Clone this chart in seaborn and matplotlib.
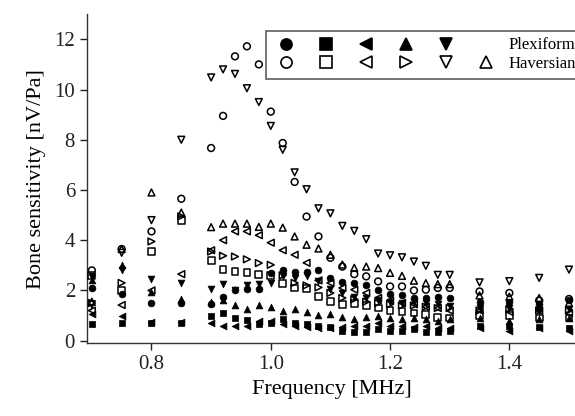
import seaborn as sns
import matplotlib.pyplot as plt
from matplotlib.lines import Line2D

# frequencies (MHz)
freq = [0.70, 0.75, 0.80, 0.85,
        0.90, 0.92, 0.94, 0.96, 0.98, 1.00, 1.02, 1.04, 1.06, 1.08, 1.10,
        1.12, 1.14, 1.16, 1.18, 1.20, 1.22, 1.24, 1.26, 1.28, 1.30,
        1.35, 1.40, 1.45, 1.50]

# Plexiform (filled markers)
plex_circle = [2.10, 1.85, 1.50, 1.50, 1.45, 1.72, 2.03, 2.05, 2.05, 2.68, 2.80, 2.75, 2.75, 2.83, 2.50,
               2.35, 2.28, 2.20, 2.00, 1.85, 1.80, 1.70, 1.70, 1.75, 1.70, 1.55, 1.55, 1.45, 1.60]
plex_square = [0.65, 0.70, 0.72, 0.72, 0.98, 1.10, 0.90, 0.83, 0.66, 0.70, 0.85, 0.70, 0.65, 0.60, 0.55,
               0.40, 0.35, 0.35, 0.45, 0.40, 0.40, 0.45, 0.35, 0.35, 0.40, 0.60, 0.60, 0.55, 0.50]
plex_left = [1.05, 1.00, 0.75, 0.75, 0.70, 0.60, 0.57, 0.60, 0.80, 0.80, 0.65, 0.60, 0.55, 0.50, 0.50,
             0.55, 0.60, 0.60, 0.70, 0.60, 0.60, 0.55, 0.60, 0.50, 0.50, 0.50, 0.40, 0.50, 0.40]
plex_up = [2.40, 3.00, 1.95, 1.65, 1.55, 1.60, 1.43, 1.26, 1.43, 1.35, 1.20, 1.26, 1.13, 1.03, 1.06,
           0.93, 0.88, 0.95, 1.00, 0.90, 0.85, 0.90, 0.85, 0.80, 0.85, 0.90, 0.80, 0.85, 0.90]
plex_down = [2.55, 2.80, 2.45, 2.30, 2.05, 2.25, 2.03, 2.20, 2.27, 2.30, 2.56, 2.49, 2.56, 2.36, 2.06,
             1.90, 1.75, 1.70, 1.60, 1.55, 1.50, 1.55, 1.50, 1.45, 1.40, 1.30, 1.30, 1.20, 1.25]

# Haversian (open markers)
hav_circle = [2.80, 3.65, 4.35, 5.65, 7.67, 8.95, 11.32, 11.72, 11.00, 9.12, 7.87, 6.32, 4.94, 4.15, 3.30,
              2.95, 2.65, 2.56, 2.36, 2.16, 2.16, 2.00, 2.03, 2.10, 2.10, 1.96, 1.90, 1.60, 1.66]
hav_square = [2.60, 2.00, 3.55, 4.80, 3.18, 2.82, 2.76, 2.72, 2.64, 2.60, 2.29, 2.10, 2.08, 1.77, 1.56,
              1.43, 1.48, 1.40, 1.30, 1.20, 1.15, 1.10, 1.05, 0.92, 0.90, 1.00, 1.00, 0.90, 0.90]
hav_left = [1.20, 1.42, 2.00, 2.65, 3.60, 4.00, 4.35, 4.35, 4.20, 3.90, 3.60, 3.42, 3.10, 2.40, 2.30,
            2.10, 2.03, 1.90, 1.70, 1.60, 1.50, 1.45, 1.35, 1.30, 1.20, 1.20, 1.15, 1.20, 1.10]
hav_right = [1.50, 2.30, 3.95, 4.95, 3.55, 3.38, 3.35, 3.24, 3.09, 3.02, 2.60, 2.30, 2.20, 2.12, 1.90,
             1.70, 1.65, 1.55, 1.50, 1.45, 1.40, 1.40, 1.35, 1.30, 1.30, 1.20, 1.25, 1.20, 1.20]
hav_down = [1.45, 3.50, 4.80, 8.00, 10.48, 10.80, 10.62, 10.05, 9.50, 8.55, 7.60, 6.70, 6.03, 5.27, 5.07,
            4.57, 4.37, 4.04, 3.47, 3.40, 3.32, 3.15, 2.98, 2.62, 2.62, 2.32, 2.37, 2.50, 2.83]
hav_up = [1.55, 3.65, 5.90, 5.10, 4.52, 4.66, 4.66, 4.66, 4.53, 4.66, 4.50, 4.15, 3.82, 3.67, 3.42,
          3.03, 2.90, 2.95, 2.89, 2.70, 2.58, 2.39, 2.29, 2.25, 2.25, 1.80, 1.75, 1.70, 1.50]

plt.rcParams['font.family'] = ['Liberation Serif', 'DejaVu Serif']

fig = plt.figure(figsize=(5.75, 4.16), dpi=100)
ax = fig.add_axes([0.151, 0.175, 0.851, 0.791])

plex = [(plex_circle, 'o'), (plex_square, 's'), (plex_left, '<'), (plex_up, '^'), (plex_down, 'v')]
hav = [(hav_circle, 'o'), (hav_square, 's'), (hav_left, '<'), (hav_right, '>'), (hav_down, 'v'), (hav_up, '^')]

for vals, m in plex:
    sns.scatterplot(x=freq, y=vals, marker=m, s=24, color='black', edgecolor='black',
                    linewidth=0.5, ax=ax, legend=False, zorder=3)
for vals, m in hav:
    sns.scatterplot(x=freq, y=vals, marker=m, s=24, facecolor='none', edgecolor='black',
                    linewidth=1.1, ax=ax, legend=False, zorder=3)

ax.set_xlim(0.6916, 1.512)
ax.set_ylim(-0.1, 13)
ax.set_xticks([0.8, 1.0, 1.2, 1.4])
ax.set_xticklabels(['0.8', '1.0', '1.2', '1.4'])
ax.set_yticks([0, 2, 4, 6, 8, 10, 12])
ax.tick_params(direction='out', length=5, width=1, labelsize=15, colors='#222222')
for side in ['top', 'right']:
    ax.spines[side].set_visible(False)
for side in ['left', 'bottom']:
    ax.spines[side].set_linewidth(1)
    ax.spines[side].set_color('#333333')
ax.set_xlabel('Frequency [MHz]', fontsize=16, labelpad=4)
ax.set_ylabel('Bone sensitivity [nV/Pa]', fontsize=16, labelpad=6)

# legend: 2 rows, filled = Plexiform, open = Haversian
def h(m, filled):
    if m is None:
        return Line2D([], [], linestyle='none')
    return Line2D([], [], linestyle='none', marker=m, markersize=8,
                  markerfacecolor='black' if filled else 'none',
                  markeredgecolor='black', markeredgewidth=1.2)

handles = [h('o', True), h('o', False), h('s', True), h('s', False),
           h('<', True), h('<', False), h('^', True), h('>', False),
           h('v', True), h('v', False), h(None, True), h('^', False)]
labels = ['', '', '', '', '', '', '', '', '', '', 'Plexiform', 'Haversian']
leg = fig.legend(handles, labels, ncol=6, loc='upper left',
                 bbox_to_anchor=(0.4626, 0.926), bbox_transform=fig.transFigure,
                 fontsize=12, frameon=True, fancybox=False, borderaxespad=0,
                 handlelength=1.6, handletextpad=0.55, columnspacing=0.25,
                 labelspacing=0.15, borderpad=0.4)
leg.get_frame().set_edgecolor('#333333')
leg.get_frame().set_linewidth(1.2)

plt.savefig('out.png', dpi=100)
